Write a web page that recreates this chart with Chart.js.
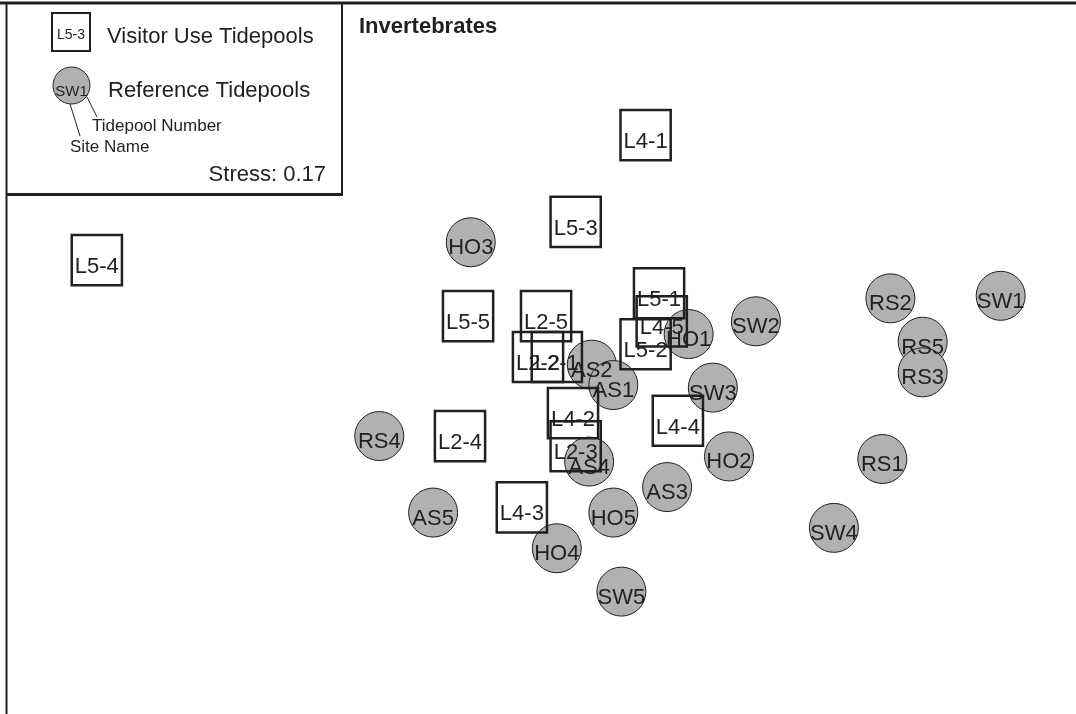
<!DOCTYPE html>
<html>
<head>
<meta charset="utf-8">
<script src="https://cdn.jsdelivr.net/npm/chart.js@4/dist/chart.umd.min.js"></script>
<style>
  body { margin: 0; background: #fff; }
  #wrap { position: relative; width: 1076px; height: 714px; }
</style>
</head>
<body>
<div id="wrap"><canvas id="mds" width="1076" height="714"></canvas></div>
<script>
// NMDS ordination, axis units (no axes shown)
var visitorLabels = ['L4-1','L5-3','L5-4','L5-5','L2-5','L2-2','L2-1','L5-1','L4-5','L5-2','L4-2','L4-4','L2-3','L2-4','L4-3'];
var visitorX = [0.40, 0.14, -1.64, -0.26, 0.03, 0.00, 0.07, 0.45, 0.46, 0.40, 0.13, 0.52, 0.14, -0.29, -0.06];
var visitorY = [0.87, 0.53, 0.38, 0.16, 0.16, 0.00, 0.00, 0.25, 0.14, 0.05, -0.22, -0.25, -0.35, -0.31, -0.59];

var refLabels = ['HO3','RS2','SW1','RS5','RS3','SW2','HO1','AS2','AS1','SW3','HO2','RS1','RS4','AS4','AS3','AS5','HO5','HO4','SW4','SW5'];
var refX = [-0.25, 1.31, 1.72, 1.43, 1.43, 0.81, 0.56, 0.20, 0.28, 0.65, 0.71, 1.28, -0.59, 0.19, 0.48, -0.39, 0.28, 0.07, 1.10, 0.31];
var refY = [0.45, 0.23, 0.24, 0.06, -0.06, 0.14, 0.09, -0.03, -0.11, -0.12, -0.39, -0.40, -0.31, -0.41, -0.51, -0.61, -0.61, -0.75, -0.67, -0.92];

var stressText = 'Stress: 0.17';
var titleText = 'Invertebrates';

var ink = '#231f20';
var grey = '#b1b1b1';
var font = '"Liberation Sans", Arial, sans-serif';

function points(xs, ys) {
    var out = [];
    for (var i = 0; i < xs.length; i++) {
        out.push({x: xs[i], y: ys[i]});
    }
    return out;
}

// labels inside the markers, frame and legend box
var decorPlugin = {
    id: 'decor',
    afterDatasetsDraw: function (chart) {
        var ctx = chart.ctx;
        var xs = chart.scales.x, ys = chart.scales.y;
        ctx.save();
        ctx.fillStyle = ink;
        ctx.textAlign = 'center';
        ctx.textBaseline = 'alphabetic';
        ctx.font = '22px ' + font;
        for (var i = 0; i < refLabels.length; i++) {
            ctx.fillText(refLabels[i], xs.getPixelForValue(refX[i]), ys.getPixelForValue(refY[i]) + 12);
        }
        for (var j = 0; j < visitorLabels.length; j++) {
            ctx.fillText(visitorLabels[j], xs.getPixelForValue(visitorX[j]), ys.getPixelForValue(visitorY[j]) + 13);
        }

        // outer frame (top and left) and legend box
        ctx.strokeStyle = ink;
        ctx.lineWidth = 3;
        ctx.beginPath();
        ctx.moveTo(0, 3);
        ctx.lineTo(1076, 3);
        ctx.stroke();
        ctx.lineWidth = 2;
        ctx.beginPath();
        ctx.moveTo(6.5, 2);
        ctx.lineTo(6.5, 714);
        ctx.moveTo(342, 2);
        ctx.lineTo(342, 195);
        ctx.stroke();
        ctx.lineWidth = 3;
        ctx.beginPath();
        ctx.moveTo(6, 194.5);
        ctx.lineTo(343, 194.5);
        ctx.stroke();

        // legend: visitor square
        ctx.fillStyle = '#fff';
        ctx.lineWidth = 2;
        ctx.fillRect(52, 13, 38, 38);
        ctx.strokeRect(52, 13, 38, 38);
        ctx.fillStyle = ink;
        ctx.font = '14px ' + font;
        ctx.fillText('L5-3', 71, 39);

        // legend: reference circle
        ctx.beginPath();
        ctx.arc(71.5, 85.5, 18.5, 0, Math.PI * 2);
        ctx.fillStyle = grey;
        ctx.fill();
        ctx.lineWidth = 1;
        ctx.stroke();
        ctx.fillStyle = ink;
        ctx.font = '15px ' + font;
        ctx.fillText('SW1', 71.5, 95.5);

        // pointer lines
        ctx.beginPath();
        ctx.moveTo(70, 104);
        ctx.lineTo(80, 136);
        ctx.moveTo(87, 97);
        ctx.lineTo(97, 117);
        ctx.stroke();

        ctx.textAlign = 'left';
        ctx.font = '22px ' + font;
        ctx.fillText('Visitor Use Tidepools', 107, 43);
        ctx.fillText('Reference Tidepools', 108, 97);
        ctx.font = '17px ' + font;
        ctx.fillText('Tidepool Number', 92, 131);
        ctx.fillText('Site Name', 70, 152);
        ctx.textAlign = 'right';
        ctx.font = '22px ' + font;
        ctx.fillText(stressText, 326, 181);

        ctx.textAlign = 'left';
        ctx.font = 'bold 22px ' + font;
        ctx.fillText(titleText, 359, 33);
        ctx.restore();
    }
};

var ctx = document.getElementById('mds');
var mdsChart = new Chart(ctx, {
    type: 'scatter',
    data: {
        datasets: [{
            label: 'Visitor Use Tidepools',
            data: points(visitorX, visitorY),
            pointStyle: 'rect',
            pointRadius: 35.5,
            backgroundColor: 'rgba(255,255,255,0)',
            borderColor: ink,
            borderWidth: 2.5,
            clip: false
        }, {
            label: 'Reference Tidepools',
            data: points(refX, refY),
            pointStyle: 'circle',
            pointRadius: 24.5,
            backgroundColor: grey,
            borderColor: ink,
            borderWidth: 1,
            clip: false
        }]
    },
    options: {
        responsive: false,
        animation: false,
        layout: { padding: 0, autoPadding: false },
        plugins: {
            legend: { display: false },
            tooltip: { enabled: false }
        },
        scales: {
            x: { type: 'linear', min: -2, max: 2, display: false },
            y: { type: 'linear', min: -1.4, max: 1.4, display: false }
        }
    },
    plugins: [decorPlugin]
});
</script>
</body>
</html>
